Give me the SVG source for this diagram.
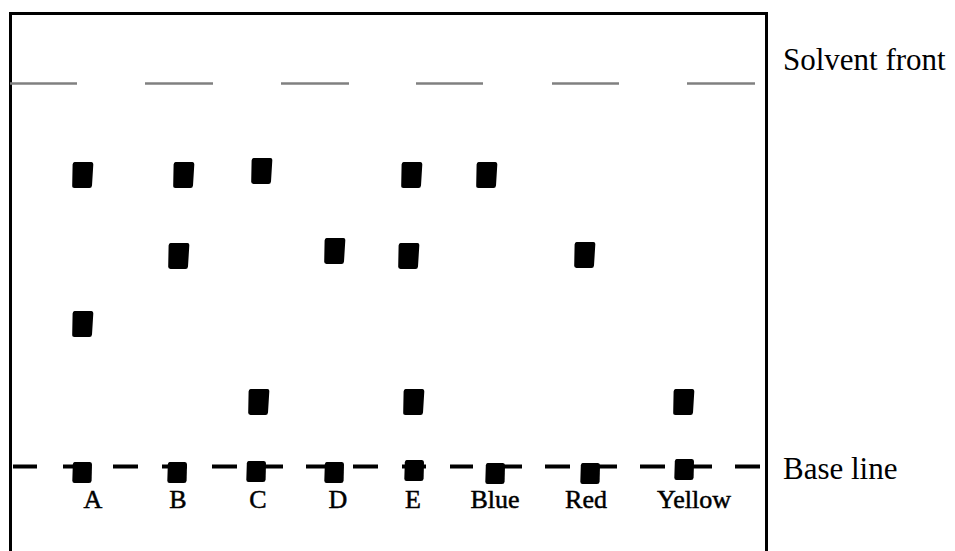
<svg xmlns="http://www.w3.org/2000/svg" width="955" height="551" viewBox="0 0 955 551">
<style>
.frame{fill:none;stroke:#000;stroke-width:3}
.front{stroke:#808080;stroke-width:2.5;fill:none}
.base{stroke:#000;stroke-width:4;fill:none}
.lbl{font-size:26px;fill:#000;text-anchor:middle;stroke:#000;stroke-width:0.5}
.side{font-size:31px;fill:#000}
</style>
<defs>
<path id="sp" d="M2.5,0 H19.5 Q21.5,0 21.3,2.5 L20,23.5 Q19.8,26 17.5,26 H2.5 Q0,26 0.2,23.5 L0.6,2.5 Q0.8,0 2.5,0 Z"/>
<path id="bs" d="M2.5,0 H18 Q20,0 20,2.5 L19.6,18.5 Q19.5,21 17,21 H2.5 Q0.3,21 0.3,18.5 L0.8,2.5 Q1,0 2.5,0 Z"/>
</defs>
<rect class="frame" x="10.5" y="13.5" width="756" height="560"/>
<g id="connectors">
<g id="solvent-front-line">
<line class="front" x1="10" y1="83.5" x2="77" y2="83.5"/>
<line class="front" x1="145" y1="83.5" x2="213" y2="83.5"/>
<line class="front" x1="281" y1="83.5" x2="349" y2="83.5"/>
<line class="front" x1="416" y1="83.5" x2="483" y2="83.5"/>
<line class="front" x1="552" y1="83.5" x2="619" y2="83.5"/>
<line class="front" x1="687" y1="83.5" x2="755" y2="83.5"/>
</g>
<g id="base-line">
<line class="base" x1="13" y1="466.5" x2="37" y2="466.5"/>
<line class="base" x1="63" y1="466.5" x2="88" y2="466.5"/>
<line class="base" x1="113" y1="466.5" x2="138" y2="466.5"/>
<line class="base" x1="162" y1="466.5" x2="187" y2="466.5"/>
<line class="base" x1="212" y1="466.5" x2="237" y2="466.5"/>
<line class="base" x1="258" y1="466.5" x2="283" y2="466.5"/>
<line class="base" x1="306" y1="466.5" x2="331" y2="466.5"/>
<line class="base" x1="353" y1="466.5" x2="378" y2="466.5"/>
<line class="base" x1="402" y1="466.5" x2="426" y2="466.5"/>
<line class="base" x1="450" y1="466.5" x2="473" y2="466.5"/>
<line class="base" x1="497" y1="466.5" x2="522" y2="466.5"/>
<line class="base" x1="545" y1="466.5" x2="570" y2="466.5"/>
<line class="base" x1="592" y1="466.5" x2="617" y2="466.5"/>
<line class="base" x1="640" y1="466.5" x2="665" y2="466.5"/>
<line class="base" x1="687" y1="466.5" x2="712" y2="466.5"/>
<line class="base" x1="735" y1="466.5" x2="760" y2="466.5"/>
</g>
</g>
<g id="lane-A">
<use href="#sp" x="72" y="162"/>
<use href="#sp" x="72" y="311"/>
<use href="#bs" x="72" y="462"/>
<text class="lbl" x="93" y="508" font-family="'Liberation Serif','DejaVu Serif',serif">A</text>
</g>
<g id="lane-B">
<use href="#sp" x="173" y="162"/>
<use href="#sp" x="168" y="243"/>
<use href="#bs" x="167" y="462"/>
<text class="lbl" x="178" y="508" font-family="'Liberation Serif','DejaVu Serif',serif">B</text>
</g>
<g id="lane-C">
<use href="#sp" x="251" y="158"/>
<use href="#sp" x="248" y="389"/>
<use href="#bs" x="246" y="461"/>
<text class="lbl" x="258" y="508" font-family="'Liberation Serif','DejaVu Serif',serif">C</text>
</g>
<g id="lane-D">
<use href="#sp" x="324" y="238"/>
<use href="#bs" x="324" y="462"/>
<text class="lbl" x="338" y="508" font-family="'Liberation Serif','DejaVu Serif',serif">D</text>
</g>
<g id="lane-E">
<use href="#sp" x="401" y="162"/>
<use href="#sp" x="398" y="243"/>
<use href="#sp" x="403" y="389"/>
<use href="#bs" x="404" y="460"/>
<text class="lbl" x="413" y="508" font-family="'Liberation Serif','DejaVu Serif',serif">E</text>
</g>
<g id="lane-Blue">
<use href="#sp" x="476" y="162"/>
<use href="#bs" x="485" y="463"/>
<text class="lbl" x="495" y="508" font-family="'Liberation Serif','DejaVu Serif',serif">Blue</text>
</g>
<g id="lane-Red">
<use href="#sp" x="574" y="242"/>
<use href="#bs" x="580" y="463"/>
<text class="lbl" x="586" y="508" font-family="'Liberation Serif','DejaVu Serif',serif">Red</text>
</g>
<g id="lane-Yellow">
<use href="#sp" x="673" y="389"/>
<use href="#bs" x="674" y="459"/>
<text class="lbl" x="694" y="508" font-family="'Liberation Serif','DejaVu Serif',serif">Yellow</text>
</g>
<g id="label-solvent-front">
<text class="side" x="783" y="70" font-family="'Liberation Serif','DejaVu Serif',serif">Solvent front</text>
</g>
<g id="label-base-line">
<text class="side" x="783" y="479" font-family="'Liberation Serif','DejaVu Serif',serif">Base line</text>
</g>
</svg>
